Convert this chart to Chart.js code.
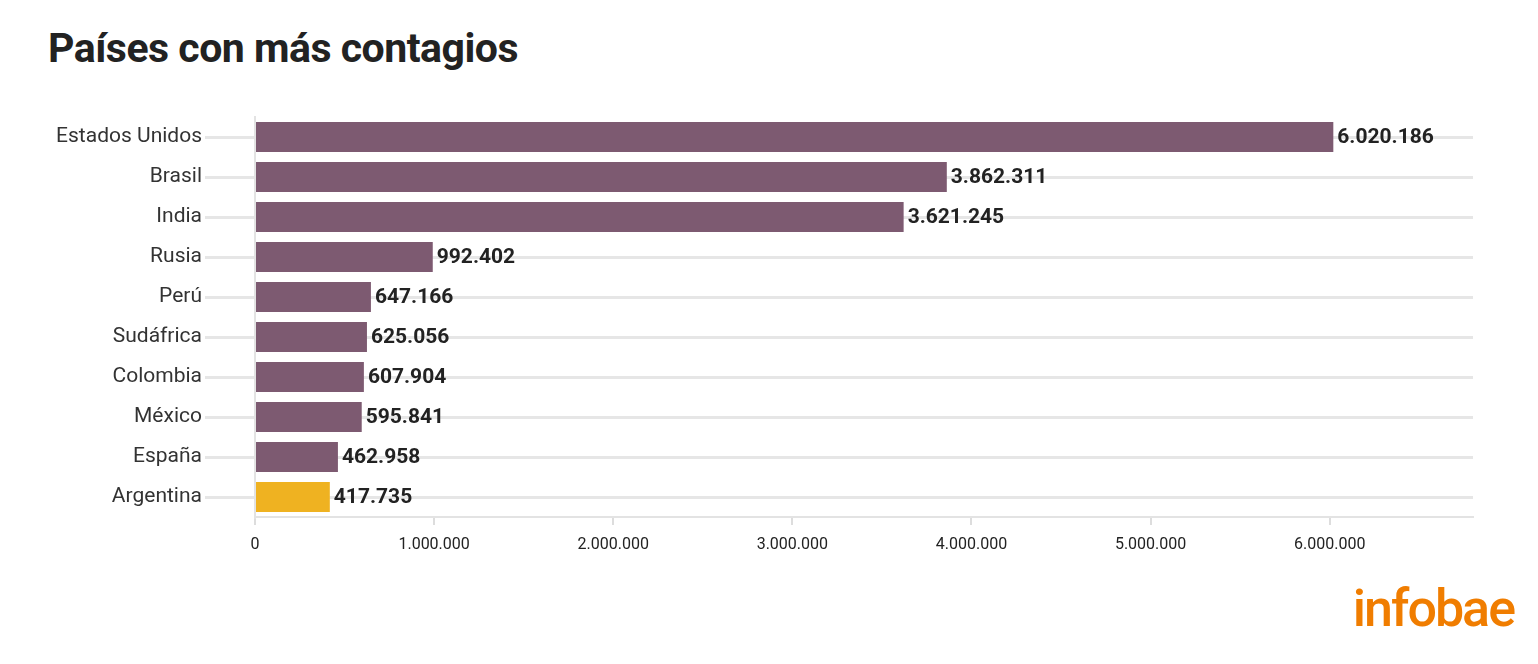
<!DOCTYPE html>
<html>
<head>
<meta charset="utf-8">
<script src="https://cdn.jsdelivr.net/npm/chart.js@4"></script>
<style>
    body { margin: 0; background: #fff; width: 1538px; height: 664px; overflow: hidden; font-family: Roboto, sans-serif; }
    h1 { position: absolute; left: 48px; top: 24px; margin: 0; font-size: 41px; font-weight: 700; color: #222; letter-spacing: -0.5px; }
    #wrap { position: absolute; left: 0; top: 100px; width: 1538px; height: 477px; }
    .logo { position: absolute; right: 24px; top: 578px; font-size: 52px; font-weight: 500; color: #f07d00; letter-spacing: -2px; }
</style>
</head>
<body>
<h1>Países con más contagios</h1>
<div id="wrap"><canvas id="chart"></canvas></div>
<div class="logo">infobae</div>
<script>
const countries = ['Estados Unidos', 'Brasil', 'India', 'Rusia', 'Perú', 'Sudáfrica', 'Colombia', 'México', 'España', 'Argentina'];
const cases = [6020186, 3862311, 3621245, 992402, 647166, 625056, 607904, 595841, 462958, 417735];
const barColors = countries.map(c => c === 'Argentina' ? '#efb221' : '#7d5a71');

function fmt(v) {
    return v.toString().replace(/\B(?=(\d{3})+(?!\d))/g, '.');
}

// value labels at end of bars
const valueLabels = {
    id: 'valueLabels',
    afterDatasetsDraw(chart) {
        const ctx = chart.ctx;
        const meta = chart.getDatasetMeta(0);
        ctx.save();
        ctx.font = 'bold 21px Roboto';
        ctx.fillStyle = '#222';
        ctx.textBaseline = 'middle';
        meta.data.forEach((bar, i) => {
            ctx.fillText(fmt(cases[i]), bar.x + 4, bar.y + 1);
        });
        ctx.restore();
    }
};

new Chart(document.getElementById('chart'), {
    type: 'bar',
    data: {
        labels: countries,
        datasets: [{
            data: cases,
            backgroundColor: barColors,
            categoryPercentage: 0.75,
            barPercentage: 1
        }]
    },
    options: {
        indexAxis: 'y',
        responsive: true,
        maintainAspectRatio: false,
        animation: false,
        layout: { padding: { top: 17, right: 65, left: 0, bottom: 0 } },
        plugins: { legend: { display: false }, tooltip: { enabled: false } },
        scales: {
            x: {
                min: 0,
                max: 6800000,
                afterFit: s => { s.height = 60; },
                afterBuildTicks: s => { s.ticks = [0, 1, 2, 3, 4, 5, 6].map(v => ({ value: v * 1000000 })); },
                grid: { drawOnChartArea: false, drawTicks: true, tickLength: 8, color: '#ddd', lineWidth: 2 },
                border: { color: '#e3e3e3', width: 2 },
                ticks: { color: '#222', font: { size: 16, family: 'Roboto' }, padding: 10, callback: v => fmt(v) }
            },
            y: {
                afterFit: s => { s.width = 255; },
                grid: { color: '#e6e6e6', lineWidth: 3, tickLength: 50, offset: false },
                border: { color: '#e3e3e3', width: 2 },
                ticks: { color: '#333', font: { size: 21, family: 'Roboto' }, padding: 3 }
            }
        }
    },
    plugins: [valueLabels]
});
</script>
</body>
</html>
